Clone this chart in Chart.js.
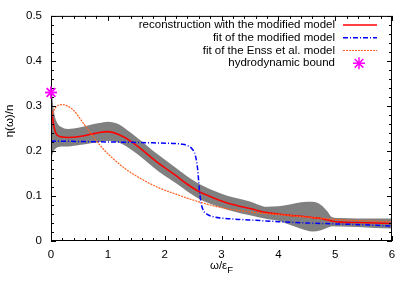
<!DOCTYPE html>
<html><head><meta charset="utf-8">
<script src="https://cdn.jsdelivr.net/npm/chart.js@4"></script>
<style>html,body{margin:0;padding:0;background:#fff}#wrap{width:415px;height:291px}</style>
</head><body><div id="wrap"><canvas id="c" width="415" height="291"></canvas></div>
<script>
// ---- data ----
const bandX     = [0, 0.02, 0.05, 0.1, 0.2, 0.3, 0.5, 0.7, 0.85, 1.0, 1.2, 1.4, 1.6, 1.8, 2.0, 2.2, 2.4, 2.6, 2.8, 3.0, 3.2, 3.5, 3.8, 4.0, 4.2, 4.4, 4.6, 4.75, 4.85, 4.95, 5.1, 5.4, 5.7, 6.0];
const recon     = [0.296,0.28,0.255,0.236,0.231,0.230,0.232,0.237,0.241,0.243,0.236,0.222,0.203,0.182,0.163,0.145,0.126,0.110,0.099,0.089,0.081,0.072,0.063,0.060,0.057,0.055,0.052,0.050,0.047,0.044,0.042,0.041,0.040,0.039];
const bandUpper = [0.39,0.33,0.29,0.265,0.252,0.249,0.252,0.258,0.262,0.265,0.259,0.241,0.221,0.200,0.181,0.162,0.143,0.127,0.115,0.105,0.097,0.088,0.076,0.077,0.081,0.086,0.087,0.080,0.068,0.053,0.051,0.050,0.050,0.050];
const bandLower = [0.175,0.19,0.2,0.207,0.21,0.21,0.213,0.217,0.22,0.222,0.218,0.204,0.185,0.164,0.145,0.128,0.110,0.094,0.083,0.074,0.066,0.057,0.049,0.045,0.036,0.027,0.021,0.024,0.029,0.033,0.032,0.031,0.029,0.028];
const modX   = [0, 0.5, 1.0, 1.5, 1.8, 2.1, 2.3, 2.4, 2.48, 2.54, 2.58, 2.61, 2.64, 2.68, 2.75, 2.86, 3.0, 3.3, 3.6, 4.0, 4.5, 5.0, 5.5, 6.0];
const modFit = [0.222,0.221,0.220,0.219,0.218,0.217,0.215,0.212,0.205,0.190,0.160,0.115,0.085,0.068,0.059,0.054,0.051,0.048,0.046,0.043,0.040,0.038,0.036,0.033];
const enssX   = [0, 0.05, 0.1, 0.2, 0.3, 0.4, 0.55, 0.7, 0.9, 1.1, 1.3, 1.6, 1.9, 2.2, 2.5, 2.8, 3.0, 3.3, 3.6, 4.0, 4.5, 5.0, 5.5, 6.0];
const enssFit = [0.27,0.29,0.299,0.303,0.299,0.29,0.265,0.239,0.207,0.182,0.161,0.137,0.118,0.104,0.091,0.080,0.074,0.068,0.063,0.059,0.053,0.048,0.045,0.043];
const hydroX = [0];
const hydroY = [0.33];
const xTicks = [0,1,2,3,4,5,6];
const yTicks = [0,0.1,0.2,0.3,0.4,0.5];
const legendLabels = ["reconstruction with the modified model","fit of the modified model","fit of the Enss et al. model","hydrodynamic bound"];

const FONT = "'Liberation Sans', Arial, sans-serif";
const FS = 11.5;
const pts = (xs, ys) => xs.map((x,i)=>({x:x, y:ys[i]}));
const RED='#ff0000', BLUE='#0000ff', ORANGE='#ff6020', MAG='#ff00ff', GREY='rgb(128,128,128)';

const framePlugin = {
  id:'frame',
  afterDraw(chart){
    const {ctx, chartArea:a, scales:{x, y}} = chart;
    ctx.save();
    ctx.strokeStyle='#000'; ctx.lineWidth=1;
    ctx.strokeRect(a.left+0.5, a.top+0.5, a.right-a.left-1, a.bottom-a.top-1);
    ctx.beginPath();
    for(let v=0; v<=6.0001; v+=0.2){
      const major = Math.abs(v-Math.round(v))<1e-6;
      const L = major?5:3;
      const px = Math.round(x.getPixelForValue(v))+0.5;
      ctx.moveTo(px,a.bottom); ctx.lineTo(px,a.bottom-L);
      ctx.moveTo(px,a.top); ctx.lineTo(px,a.top+L);
    }
    for(let v=0; v<=0.5001; v+=0.02){
      const major = Math.abs(v*10-Math.round(v*10))<1e-6;
      const L = major?5:3;
      const py = Math.round(y.getPixelForValue(v))+0.5;
      ctx.moveTo(a.left,py); ctx.lineTo(a.left+L,py);
      ctx.moveTo(a.right,py); ctx.lineTo(a.right-L,py);
    }
    ctx.stroke();
    // redraw marker on top of frame
    const mk = chart.getDatasetMeta(5).data[0];
    if(mk){
      ctx.strokeStyle=MAG; ctx.lineWidth=1.5;
      const r=6, d=r*0.72, mx=mk.x, my=mk.y;
      ctx.beginPath();
      ctx.moveTo(mx-r,my); ctx.lineTo(mx+r,my);
      ctx.moveTo(mx,my-r); ctx.lineTo(mx,my+r);
      ctx.moveTo(mx-d,my-d); ctx.lineTo(mx+d,my+d);
      ctx.moveTo(mx-d,my+d); ctx.lineTo(mx+d,my-d);
      ctx.stroke();
    }
    // axis titles
    ctx.fillStyle='#000';
    ctx.font=FS+'px '+FONT;
    ctx.textBaseline='middle';
    const cx=(a.left+a.right)/2;
    const main='\u03C9/\u03B5';
    const w1=ctx.measureText(main).width;
    ctx.font='9.5px '+FONT;
    const w2=ctx.measureText('F').width;
    let sx=cx-(w1+w2)/2;
    ctx.font=FS+'px '+FONT; ctx.textAlign='left';
    ctx.fillText(main,sx,266);
    ctx.font='9.5px '+FONT;
    ctx.fillText('F',sx+w1,270);
    ctx.save();
    ctx.translate(10,121); ctx.rotate(-Math.PI/2);
    ctx.font=FS+'px '+FONT; ctx.textAlign='center';
    ctx.fillText('\u03B7(\u03C9)/n',0,0);
    ctx.restore();
    // legend
    const rows=[25,37.7,50.5,63.3];
    ctx.font=FS+'px '+FONT; ctx.textAlign='right'; ctx.textBaseline='middle';
    legendLabels.forEach((t,i)=>ctx.fillText(t,335,rows[i]));
    ctx.lineWidth=1.5;
    ctx.strokeStyle=RED; ctx.setLineDash([]);
    ctx.beginPath(); ctx.moveTo(343,rows[0]); ctx.lineTo(377,rows[0]); ctx.stroke();
    ctx.strokeStyle=BLUE; ctx.setLineDash([5,2,1,2]);
    ctx.beginPath(); ctx.moveTo(343,rows[1]); ctx.lineTo(377,rows[1]); ctx.stroke();
    ctx.strokeStyle=ORANGE; ctx.setLineDash([2,1]); ctx.lineWidth=1.2;
    ctx.beginPath(); ctx.moveTo(343,rows[2]); ctx.lineTo(377,rows[2]); ctx.stroke();
    ctx.setLineDash([]);
    ctx.strokeStyle=MAG; ctx.lineWidth=1.5;
    const mx=359, my=rows[3], r=6;
    ctx.beginPath();
    ctx.moveTo(mx-r,my); ctx.lineTo(mx+r,my);
    ctx.moveTo(mx,my-r); ctx.lineTo(mx,my+r);
    const d=r*0.72;
    ctx.moveTo(mx-d,my-d); ctx.lineTo(mx+d,my+d);
    ctx.moveTo(mx-d,my+d); ctx.lineTo(mx+d,my-d);
    ctx.stroke();
    ctx.restore();
  }
};

new Chart(document.getElementById('c'), {
  type:'line',
  data:{datasets:[
    {label:'lower', data:pts(bandX,bandLower), borderWidth:0, borderColor:'rgba(0,0,0,0)', pointRadius:0, fill:false, cubicInterpolationMode:'monotone', order:10},
    {label:'upper', data:pts(bandX,bandUpper), borderWidth:0, borderColor:'rgba(0,0,0,0)', backgroundColor:GREY, pointRadius:0, fill:'-1', cubicInterpolationMode:'monotone', order:9},
    {label:legendLabels[0], data:pts(bandX,recon), borderColor:RED, borderWidth:1.6, pointRadius:0, fill:false, cubicInterpolationMode:'monotone', order:3},
    {label:legendLabels[1], data:pts(modX,modFit), borderColor:BLUE, borderWidth:1.5, borderDash:[5,2,1,2], pointRadius:0, fill:false, cubicInterpolationMode:'monotone', order:2},
    {label:legendLabels[2], data:pts(enssX,enssFit), borderColor:ORANGE, borderWidth:1.2, borderDash:[2,1], pointRadius:0, fill:false, cubicInterpolationMode:'monotone', order:1},
    {label:legendLabels[3], data:pts(hydroX,hydroY), showLine:false, borderColor:MAG, backgroundColor:MAG, pointStyle:'star', pointRadius:6, pointBorderWidth:1.5, clip:false, order:0}
  ]},
  options:{
    responsive:false, animation:false,
    layout:{padding:{left:0,right:23,top:15,bottom:0}},
    plugins:{legend:{display:false}, tooltip:{enabled:false}},
    scales:{
      x:{type:'linear', min:0, max:6, afterFit(s){s.height=50;},
         grid:{display:false, drawTicks:false}, border:{display:false},
         afterBuildTicks(s){s.ticks=xTicks.map(v=>({value:v}));},
         ticks:{color:'#000', font:{family:FONT,size:FS}, padding:7, maxRotation:0}},
      y:{type:'linear', min:0, max:0.5, afterFit(s){s.width=51;},
         grid:{display:false, drawTicks:false}, border:{display:false},
         afterBuildTicks(s){s.ticks=yTicks.map(v=>({value:v}));},
         ticks:{color:'#000', font:{family:FONT,size:FS}, padding:9, callback:v=>String(v)}}
    }
  },
  plugins:[framePlugin]
});
</script></body></html>
